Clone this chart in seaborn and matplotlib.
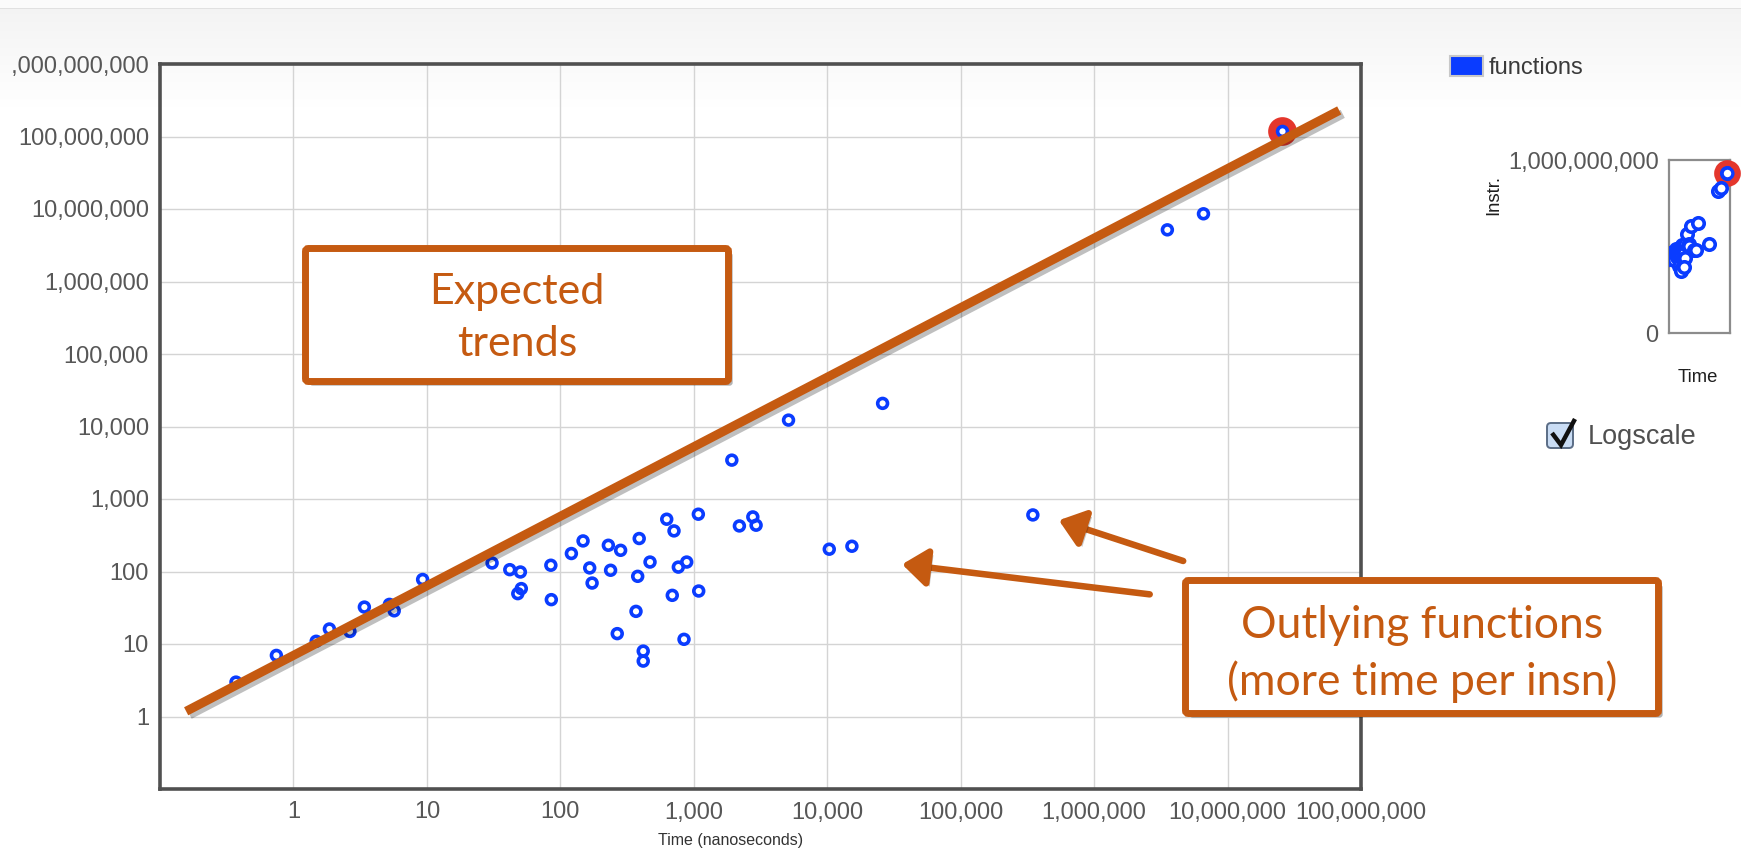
import numpy as np
import pandas as pd
import matplotlib
matplotlib.use("Agg")
import matplotlib.pyplot as plt
import seaborn as sns
import matplotlib.patheffects as pe
from matplotlib.patches import FancyBboxPatch, FancyArrowPatch, Patch
from matplotlib.lines import Line2D
from matplotlib.ticker import FixedLocator, FuncFormatter, NullLocator
from matplotlib.transforms import IdentityTransform, Bbox, TransformedBbox

# ---------------------------------------------------------------- data
# wall time per function (ns) and instructions executed
time_ns = [0.371, 0.745, 1.48, 1.86, 2.65, 3.40, 5.24, 5.69, 9.29,
           30.8, 41.8, 50.2, 51.0, 48.0, 84.9, 85.6, 121, 148, 166, 173,
           229, 283, 238, 390, 470, 380, 369, 267, 418, 418,
           627, 711, 766, 885, 690, 1089, 845, 1082,
           1928, 2197, 2770, 2931, 5129, 10360, 15310, 26000,
           347500, 3.54e6, 6.6e6, 2.58e7]
instructions = [2.98, 6.96, 10.9, 16.1, 14.9, 32.3, 35.2, 28.7, 77.6,
                131, 106, 98.4, 58.1, 49.5, 122, 40.9, 177, 264, 112, 69.3,
                230, 196, 104, 285, 135, 85.8, 28.2, 13.9, 7.98, 5.81,
                526, 363, 115, 135, 46.9, 53.8, 11.6, 617,
                3436, 425, 566, 435, 12250, 203, 223, 20840,
                603, 5.16e6, 8.59e6, 1.175e8]
selected_index = 49          # the function currently highlighted

x_ticks = [1, 10, 100, 1e3, 1e4, 1e5, 1e6, 1e7, 1e8]
y_ticks = [1, 10, 100, 1e3, 1e4, 1e5, 1e6, 1e7, 1e8, 1e9]

# hand-drawn "expected trend" guide and outlier call-outs (time, instr)
trend_time = [0.157, 6.87e7]
trend_instr = [1.18, 2.29e8]
arrow_tips = [(5.44e5, 509), (3.64e4, 125.7)]
arrow_tails = [(4.65e6, 139.7), (2.61e6, 48.4)]

series_name = "functions"
x_title = "Time (nanoseconds)"

# ---------------------------------------------------------------- style
sns.set_style("white")
plt.rcParams["font.family"] = ["Liberation Sans", "DejaVu Sans"]

BLUE = "#0a3cff"
ORANGE = "#c55a11"
RED = "#e4362c"
TICK_GREY = "#575757"

W, H = 1741, 852
fig = plt.figure(figsize=(W / 100, H / 100), dpi=100)
fig.patch.set_facecolor("white")


def fx(px):
    return px / W


def fy(py):
    return 1 - py / H


# page header band behind everything
bg = fig.add_axes([0, 0, 1, 1], zorder=-10)
bg.axis("off")
shade = np.ones(H)
shade[:8] = 0.985
shade[8] = 0.885
shade[9:108] = np.linspace(0.955, 1.0, 99)
bg.imshow(np.repeat(shade[:, None, None], 3, axis=2), extent=[0, 1, 0, 1],
          aspect="auto", origin="upper", interpolation="bilinear")
bg.set_xlim(0, 1)
bg.set_ylim(0, 1)

df = pd.DataFrame({"time": time_ns, "instr": instructions})
sel = df.iloc[[selected_index]]

fmt = FuncFormatter(lambda v, _: f"{v:,.0f}")

# ---------------------------------------------------------------- main chart
ax = fig.add_axes([fx(160), fy(789), fx(1361) - fx(160), fy(64) - fy(789)])
ax.set_facecolor("none")

ax.scatter(sel["time"], sel["instr"], s=215, facecolor="white",
           edgecolor=RED, linewidth=6.0, zorder=3)
sns.scatterplot(data=df, x="time", y="instr", ax=ax, s=50, color=BLUE,
                legend=False, zorder=4)
pts = ax.collections[-1]
pts.set_facecolor("none")
pts.set_edgecolor(BLUE)
pts.set_linewidth(2.6)

ax.set_xscale("log")
ax.set_yscale("log")
ax.set_xlim(0.1, 1e8)
ax.set_ylim(0.1, 1e9)
ax.xaxis.set_major_locator(FixedLocator(x_ticks))
ax.yaxis.set_major_locator(FixedLocator(y_ticks))
ax.xaxis.set_minor_locator(NullLocator())
ax.yaxis.set_minor_locator(NullLocator())
ax.xaxis.set_major_formatter(fmt)
ax.yaxis.set_major_formatter(fmt)
ax.grid(True, which="major", color="#d4d4d4", linewidth=1.0)
ax.set_axisbelow(True)
ax.tick_params(length=0, labelsize=17, labelcolor=TICK_GREY)
ax.tick_params(axis="x", pad=9)
ax.tick_params(axis="y", pad=8)
for sp in ax.spines.values():
    sp.set_visible(True)
    sp.set_color("#505050")
    sp.set_linewidth(2.6)

ax.set_ylabel("")
ax.set_xlabel(x_title, fontsize=11.5, color="#333333", va="center")
ax.xaxis.set_label_coords((731 - 160) / 1201, (789 - 840.5) / 725)

# expected-trend guide line
ax.plot(trend_time, trend_instr, color=ORANGE, linewidth=6.5,
        solid_capstyle="butt", zorder=6,
        path_effects=[pe.SimpleLineShadow(offset=(2.5, -2.5), shadow_color="k",
                                          alpha=0.25),
                      pe.Normal()])

# arrows pointing at the outliers
for tip, tail in zip(arrow_tips, arrow_tails):
    arr = FancyArrowPatch(posA=tail, posB=tip, transform=ax.transData,
                          arrowstyle="-|>,head_length=15,head_width=11.5",
                          mutation_scale=1, linewidth=4.7, color=ORANGE,
                          shrinkA=0, shrinkB=0, clip_on=False, zorder=7,
                          path_effects=[pe.withSimplePatchShadow(
                              offset=(2.5, -2.5), shadow_rgbFace="k",
                              alpha=0.22)])
    ax.add_patch(arr)

# ---------------------------------------------------------------- call-out boxes
px = IdentityTransform()


def callout(x0, y0, x1, y1, text, cx, cy, size, spacing):
    box = FancyBboxPatch((x0, H - y1), x1 - x0, y1 - y0,
                         boxstyle="round,pad=0,rounding_size=3",
                         transform=px, facecolor="white", edgecolor=ORANGE,
                         linewidth=5.0, zorder=8,
                         path_effects=[pe.withSimplePatchShadow(
                             offset=(3, -3), shadow_rgbFace="k", alpha=0.3)])
    fig.add_artist(box)
    fig.text(fx(cx), fy(cy), text, ha="center", va="center", fontsize=size,
             color=ORANGE, family=["Lato", "DejaVu Sans"],
             linespacing=spacing, zorder=9)


callout(305.5, 248.5, 728.5, 381.5, "Expected\ntrends", 517, 318, 31, 1.48)
callout(1185.5, 580.5, 1658.5, 713.5,
        "Outlying functions\n(more time per insn)", 1422, 654, 32, 1.42)

# ---------------------------------------------------------------- legend
leg = ax.legend(handles=[Patch(facecolor=BLUE, edgecolor="#c8c8c8",
                               linewidth=1.5, label=series_name)],
                loc="upper left", bbox_to_anchor=(fx(1450), fy(56)),
                bbox_transform=fig.transFigure, frameon=False, fontsize=17,
                handlelength=1.4, handleheight=0.95, handletextpad=0.25,
                borderpad=0, borderaxespad=0)
for t in leg.get_texts():
    t.set_color("#3a3a3a")

# ---------------------------------------------------------------- overview chart
mini = fig.add_axes([fx(1669), fy(333), fx(1730) - fx(1669), fy(160) - fy(333)])
mini.set_facecolor("none")
mini.scatter(sel["time"], sel["instr"], s=175, facecolor="white",
             edgecolor=RED, linewidth=6.0, zorder=3, clip_on=False)
sns.scatterplot(data=df, x="time", y="instr", ax=mini, s=68, color=BLUE,
                legend=False, zorder=4)
mp = mini.collections[-1]
mp.set_facecolor("white")
mp.set_edgecolor(BLUE)
mp.set_linewidth(2.6)
mini.scatter(sel["time"], sel["instr"], s=60, facecolor="white",
             edgecolor=BLUE, linewidth=2.4, zorder=5, clip_on=False)
mini.set_xscale("log")
mini.set_yscale("log")
mini.set_xlim(25, 5.6e7)
mini.set_ylim(1.55e-4, 1e9)
mini.xaxis.set_major_locator(FixedLocator([]))
mini.xaxis.set_minor_locator(NullLocator())
mini.yaxis.set_major_locator(FixedLocator([1.55e-4, 1e9]))
mini.yaxis.set_minor_locator(NullLocator())
mini.set_yticklabels(["0", "1,000,000,000"])
mini.tick_params(length=0, labelsize=17, labelcolor=TICK_GREY, pad=7.5)
for sp in mini.spines.values():
    sp.set_visible(True)
    sp.set_color("#8c8c8c")
    sp.set_linewidth(1.6)
mini.set_xlabel("Time", fontsize=13.3, color="#1e1e1e", va="center")
mini.xaxis.set_label_coords((1698 - 1669) / 61, (333 - 378) / 173)
mini.set_ylabel("Instr.", fontsize=13.3, color="#1e1e1e")
mini.yaxis.set_label_coords((1502 - 1669) / 61, (333 - 195) / 173)

# ---------------------------------------------------------------- log-scale toggle
chk = FancyBboxPatch((1547, H - 448), 26, 25,
                     boxstyle="round,pad=0,rounding_size=4", transform=px,
                     facecolor="#c9dcf4", edgecolor="#5b6d86", linewidth=1.4)
fig.add_artist(chk)
fig.add_artist(Line2D([1552, 1561, 1575], [H - 433, H - 445, H - 419],
                      transform=px, color="#101010", linewidth=3.2,
                      solid_joinstyle="miter", solid_capstyle="butt"))
fig.text(fx(1588), fy(437), "Logscale", ha="left", va="center", fontsize=19.5,
         color="#505050")

# the billion label runs into the page edge
fig.canvas.draw()
edge = TransformedBbox(Bbox.from_extents(fx(11), 0, 1, 1), fig.transFigure)
for lab in ax.get_yticklabels():
    if lab.get_text() == "1,000,000,000":
        lab.set_clip_box(edge)
        lab.set_clip_on(True)

fig.savefig("out.png", dpi=100, facecolor="white")
